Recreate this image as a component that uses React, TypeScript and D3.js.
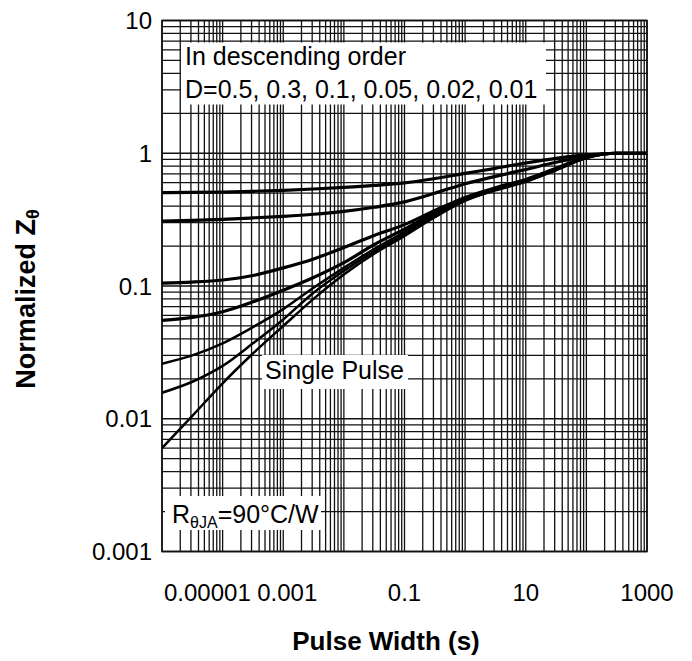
import React from "react";
import * as d3 from "d3";

const pulseWidths = [1e-5, 3.16e-5, 1e-4, 3.16e-4, 1e-3, 3.16e-3, 0.01, 0.0316, 0.1, 0.316, 1, 3.16, 10, 31.6, 100, 316, 1000];
const dutyLabels = ["D=0.5", "D=0.3", "D=0.1", "D=0.05", "D=0.02", "D=0.01", "Single Pulse"];
const zD05 = [0.505, 0.507, 0.51, 0.517, 0.526, 0.538, 0.553, 0.572, 0.598, 0.645, 0.705, 0.77, 0.845, 0.915, 0.972, 1.0, 1.0];
const zD03 = [0.308, 0.312, 0.318, 0.326, 0.335, 0.347, 0.365, 0.392, 0.43, 0.5, 0.59, 0.67, 0.755, 0.855, 0.952, 1.0, 1.0];
const zD01 = [0.105, 0.107, 0.111, 0.12, 0.137, 0.16, 0.195, 0.24, 0.29, 0.37, 0.465, 0.55, 0.635, 0.77, 0.935, 1.0, 1.0];
const zD005 = [0.055, 0.058, 0.064, 0.076, 0.093, 0.116, 0.15, 0.205, 0.268, 0.355, 0.455, 0.54, 0.625, 0.76, 0.93, 1.0, 1.0];
const zD002 = [0.026, 0.03, 0.037, 0.049, 0.067, 0.097, 0.137, 0.19, 0.255, 0.345, 0.448, 0.535, 0.62, 0.755, 0.93, 1.0, 1.0];
const zD001 = [0.0157, 0.019, 0.025, 0.037, 0.056, 0.089, 0.13, 0.182, 0.245, 0.338, 0.443, 0.53, 0.615, 0.75, 0.925, 1.0, 1.0];
const zSingle = [0.006, 0.0105, 0.0185, 0.031, 0.05, 0.08, 0.122, 0.175, 0.238, 0.33, 0.438, 0.525, 0.61, 0.745, 0.92, 1.0, 1.0];
const seriesValues = [zD05, zD03, zD01, zD005, zD002, zD001, zSingle];

const xTickValues = [1e-5, 1e-3, 0.1, 10, 1000];
const xTickLabels = ["0.00001", "0.001", "0.1", "10", "1000"];
const yTickValues = [10, 1, 0.1, 0.01, 0.001];
const yTickLabels = ["10", "1", "0.1", "0.01", "0.001"];

const FONT = "'Liberation Sans', Arial, sans-serif";

export default function App() {
  const W = 692, H = 661;
  const left = 162, right = 647, top = 20.5, bottom = 551.5;
  const x = d3.scaleLog().domain([1e-5, 1000]).range([left, right]);
  const y = d3.scaleLog().domain([0.001, 10]).range([bottom, top]);
  const xGrid = x.ticks();
  const yGrid = y.ticks();
  const line = d3
    .line<number>()
    .x((_, i) => x(pulseWidths[i]))
    .y((d) => y(d))
    .curve(d3.curveMonotoneX);

  const xLabelPos = (i: number) => (i === 0 ? 164 : i === 1 ? x(xTickValues[i]) + 4 : x(xTickValues[i]));

  return (
    <svg width={W} height={H} style={{ position: "absolute", left: 0, top: 0, background: "#fff" }}>
      <rect x={0} y={0} width={W} height={H} fill="#fff" />
      <g stroke="#111" strokeWidth={1.3}>
        {xGrid.map((v, i) => (
          <line key={"gx" + i} x1={x(v)} x2={x(v)} y1={top} y2={bottom} />
        ))}
        {yGrid.map((v, i) => (
          <line key={"gy" + i} x1={left} x2={right} y1={y(v)} y2={y(v)} />
        ))}
      </g>
      {/* annotation boxes */}
      <rect x={181} y={42.5} width={365} height={62} fill="#fff" />
      <rect x={262} y={355} width={146} height={34} fill="#fff" />
      <rect x={165} y={496} width={156} height={34} fill="#fff" />
      <rect x={left} y={top} width={right - left} height={bottom - top} fill="none" stroke="#111" strokeWidth={1.6} />
      <g fill="none" stroke="#000" strokeLinejoin="round">
        {seriesValues.map((s, i) => (
          <path key={dutyLabels[i]} d={line(s) || ""} strokeWidth={i < 4 ? 3.2 : 2.5} />
        ))}
      </g>
      <g fontFamily={FONT} fontSize={25} fill="#000">
        <text x={185} y={65}>In descending order</text>
        <text x={185} y={98}>D=0.5, 0.3, 0.1, 0.05, 0.02, 0.01</text>
        <text x={265} y={379}>Single Pulse</text>
        <text x={172} y={523}>
          R<tspan fontSize={16} dy={5}>θJA</tspan>
          <tspan dy={-5}>=90°C/W</tspan>
        </text>
      </g>
      <g fontFamily={FONT} fontSize={24} fill="#000">
        {xTickValues.map((v, i) => (
          <text key={"xt" + i} x={xLabelPos(i)} y={601} textAnchor={i === 0 ? "start" : "middle"}>
            {xTickLabels[i]}
          </text>
        ))}
        {yTickValues.map((v, i) => (
          <text key={"yt" + i} x={152} y={y(v) + 8.5} textAnchor="end">
            {yTickLabels[i]}
          </text>
        ))}
      </g>
      <text x={386} y={650} textAnchor="middle" fontFamily={FONT} fontSize={26} fontWeight="bold">
        Pulse Width (s)
      </text>
      <text
        transform="translate(35,299) rotate(-90)"
        textAnchor="middle"
        fontFamily={FONT}
        fontSize={27}
        fontWeight="bold"
      >
        Normalized Z<tspan fontSize={18} dy={4}>θ</tspan>
      </text>
    </svg>
  );
}
